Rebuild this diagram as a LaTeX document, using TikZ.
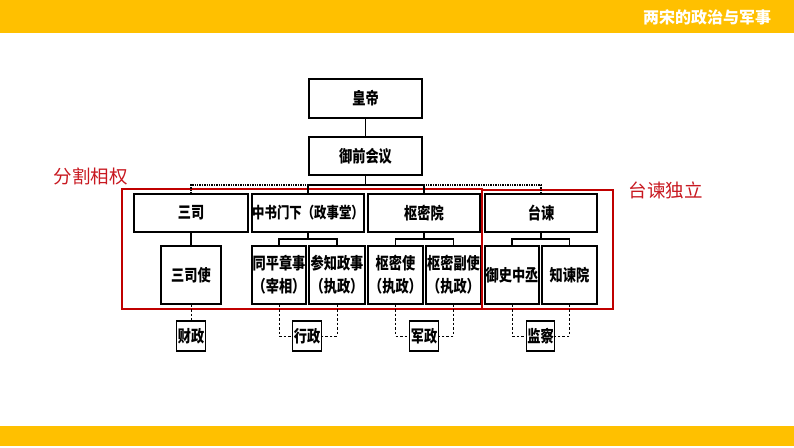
\documentclass[tikz,border=0pt]{standalone}
\usepackage{fontspec}
\newfontfamily\cjk{Noto Sans CJK SC}
\newfontfamily\cjkn[FakeStretch=0.8]{Noto Sans CJK SC}
\definecolor{bargold}{RGB}{255,192,0}
\definecolor{framered}{RGB}{192,0,0}
\definecolor{labelred}{RGB}{200,24,32}
\tikzset{
  orgbox/.style={draw=black, line width=1.3pt, fill=white, inner sep=0pt, align=center,
    font=\cjkn\bfseries\fontsize{16.5}{23}\selectfont},
  topbox/.style={orgbox, minimum height=38pt},
  subbox/.style={orgbox, minimum height=58pt},
  fieldbox/.style={orgbox, minimum width=28.5pt, minimum height=30pt},
  link/.style={line width=1.2pt, draw=black},
  dotlink/.style={line width=1.4pt, draw=black, densely dotted},
  dashlink/.style={line width=1pt, draw=black, dash pattern=on 2.5pt off 2pt},
  redframe/.style={draw=framered, line width=2.2pt},
  redlabel/.style={text=labelred, font=\cjk\fontsize{18.5}{20}\selectfont, inner sep=0pt},
}
\begin{document}
\begin{tikzpicture}[x=1pt,y=-1pt]
\useasboundingbox (0,0) rectangle (794,447);
% bars
\fill[bargold] (0,0) rectangle (794,33);
\fill[bargold] (0,426) rectangle (794,446);
\node[text=white, font=\cjk\bfseries\fontsize{16}{18}\selectfont, inner sep=0pt] (title) at (707,17) {两宋的政治与军事};

% top
\node[orgbox, minimum width=113pt, minimum height=39pt] (huangdi) at (365.5,98.5) {皇帝};
\node[orgbox, minimum width=113pt, minimum height=38pt] (yuqian) at (365.5,156) {御前会议};

% row 1
\node[topbox, minimum width=114pt] (sansi) at (191,213) {三司};
\node[topbox, minimum width=112pt, font=\cjkn\bfseries\fontsize{15.5}{17}\selectfont] (zhongshu) at (308,213) {中书门下（政事堂）};
\node[topbox, minimum width=112pt] (shumi) at (424,213) {枢密院};
\node[topbox, minimum width=112pt] (taijian) at (541,213) {台谏};

% row 2
\node[subbox, minimum width=60pt] (sansishi) at (191,275) {三司使};
\node[subbox, minimum width=54pt] (tongping) at (279,275) {同平章事\\（宰相）};
\node[subbox, minimum width=56pt] (canzhi) at (337,275) {参知政事\\（执政）};
\node[subbox, minimum width=55pt] (shumishi) at (395.5,275) {枢密使\\（执政）};
\node[subbox, minimum width=55pt] (shumifu) at (453.5,275) {枢密副使\\（执政）};
\node[subbox, minimum width=54pt] (yushi) at (512,275) {御史中丞};
\node[subbox, minimum width=55pt] (zhijian) at (569.5,275) {知谏院};

% fields
\node[fieldbox] (caizheng) at (191,336) {财政};
\node[fieldbox] (xingzheng) at (307,336) {行政};
\node[fieldbox] (junzheng) at (424,336) {军政};
\node[fieldbox] (jiancha) at (540.5,336) {监察};

% red frames and labels
\draw[redframe] (122,189) rectangle (482,309);
\draw[redframe] (482,190) rectangle (613,309);
\node[redlabel] (fenge) at (90.5,176) {分割相权};
\node[redlabel] (duli) at (665.5,190) {台谏独立};

% connectors
\coordinate (bus) at (365.5,185);
\draw[link] (huangdi) -- (yuqian);
\draw[link] (yuqian) -- (bus);
\draw[link] (zhongshu.north) |- (bus) -| (shumi.north);
\draw[dotlink] (sansi.north) |- (zhongshu.north |- bus);
\draw[dotlink] (taijian.north) |- (shumi.north |- bus);

\coordinate (z1) at (308,239);
\coordinate (s1) at (424,239);
\coordinate (t1) at (541,239);
\draw[link] (sansi) -- (sansishi);
\draw[link] (zhongshu) -- (z1);
\draw[link] (tongping.north) |- (z1) -| (canzhi.north);
\draw[link] (shumi) -- (s1);
\draw[link] (shumishi.north) |- (s1) -| (shumifu.north);
\draw[link] (taijian) -- (t1);
\draw[link] (yushi.north) |- (t1) -| (zhijian.north);

\draw[dashlink] (sansishi) -- (caizheng);
\draw[dashlink] (tongping.south) |- (xingzheng.west);
\draw[dashlink] (canzhi.south) |- (xingzheng.east);
\draw[dashlink] (shumishi.south) |- (junzheng.west);
\draw[dashlink] (shumifu.south) |- (junzheng.east);
\draw[dashlink] (yushi.south) |- (jiancha.west);
\draw[dashlink] (zhijian.south) |- (jiancha.east);
\end{tikzpicture}
\end{document}
